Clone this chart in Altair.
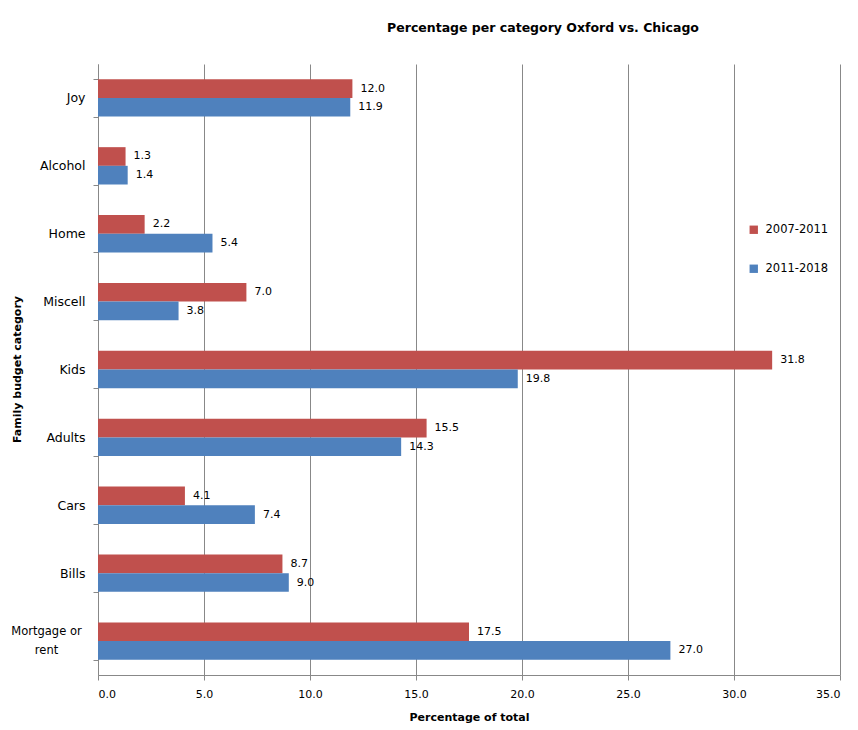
import altair as alt
import pandas as pd

categories = ["Joy", "Alcohol", "Home", "Miscell", "Kids", "Adults", "Cars", "Bills", "Mortgage or rent"]
series = ["2007-2011", "2011-2018"]
v_2007_2011 = [12.0, 1.3, 2.2, 7.0, 31.8, 15.5, 4.1, 8.7, 17.5]
v_2011_2018 = [11.9, 1.4, 5.4, 3.8, 19.8, 14.3, 7.4, 9.0, 27.0]
colors = ["#C0504D", "#4F81BD"]

rows = []
for c, a, b in zip(categories, v_2007_2011, v_2011_2018):
    rows.append({"category": c, "series": series[0], "value": a})
    rows.append({"category": c, "series": series[1], "value": b})
df = pd.DataFrame(rows)

FONT = "DejaVu Sans"
LONG = "datum.value == 'Mortgage or rent'"

y_enc = alt.Y(
    "category:N",
    sort=categories,
    scale=alt.Scale(paddingInner=0.45, paddingOuter=0.225),
    axis=alt.Axis(
        title="Family budget category",
        titleFont=FONT, titleFontSize=11, titleFontWeight="bold", titleColor="#000",
        titleX=-81, titleY=305, titleAngle=270, titleBaseline="middle", titleAlign="center",
        labelFont=FONT, labelColor="#000",
        labelFontSize={"condition": {"test": LONG, "value": 11.5}, "value": 12.5},
        labelPadding={"condition": {"test": LONG, "value": 47}, "value": 8},
        labelAlign={"condition": {"test": LONG, "value": "center"}, "value": "right"},
        labelOffset={"condition": {"test": LONG, "value": -10}, "value": 0},
        labelLineHeight=19,
        labelExpr="datum.value == 'Mortgage or rent' ? ['Mortgage or', 'rent'] : datum.value",
        tickBand="extent", tickColor="#888", tickSize=5,
        domainColor="#888", grid=False,
    ),
)

x_enc = alt.X(
    "value:Q",
    scale=alt.Scale(domain=[0, 35], nice=False),
    axis=alt.Axis(
        title="Percentage of total",
        titleFont=FONT, titleFontSize=11, titleFontWeight="bold", titleColor="#000",
        titlePadding=12,
        values=[0, 5, 10, 15, 20, 25, 30, 35], format=".1f",
        labelFont=FONT, labelFontSize=11, labelColor="#000", labelPadding=8,
        tickColor="#888", tickSize=5, domainColor="#888",
        grid=True, gridColor="#888", gridWidth=1,
    ),
)

base = alt.Chart(df).encode(
    y=y_enc,
    yOffset=alt.YOffset("series:N", sort=series),
)

bars = base.mark_bar().encode(
    x=x_enc,
    color=alt.Color(
        "series:N",
        sort=series,
        scale=alt.Scale(domain=series, range=colors),
        legend=alt.Legend(
            title=None, orient="none", legendX=650, legendY=160,
            symbolType="square", symbolSize=70, symbolStrokeWidth=0,
            labelFont=FONT, labelFontSize=11.5, labelColor="#000",
            rowPadding=26, labelOffset=6,
        ),
    ),
)

labels = base.mark_text(align="left", baseline="middle", dx=8, font=FONT, fontSize=11, color="#000").encode(
    x=alt.X("value:Q"),
    text=alt.Text("value:Q", format=".1f"),
)

chart = (bars + labels).properties(
    width=742,
    height=611,
    title=alt.TitleParams(
        "Percentage per category Oxford vs.  Chicago",
        font=FONT, fontSize=12.5, fontWeight="bold", color="#000",
        anchor="middle", dx=74, offset=24,
    ),
    autosize=alt.AutoSizeParams(type="none"),
    padding={"left": 90, "top": 56, "right": 10, "bottom": 50},
).configure_view(stroke=None)

chart.save("out.html", embed_options={"renderer": "svg", "actions": False})
